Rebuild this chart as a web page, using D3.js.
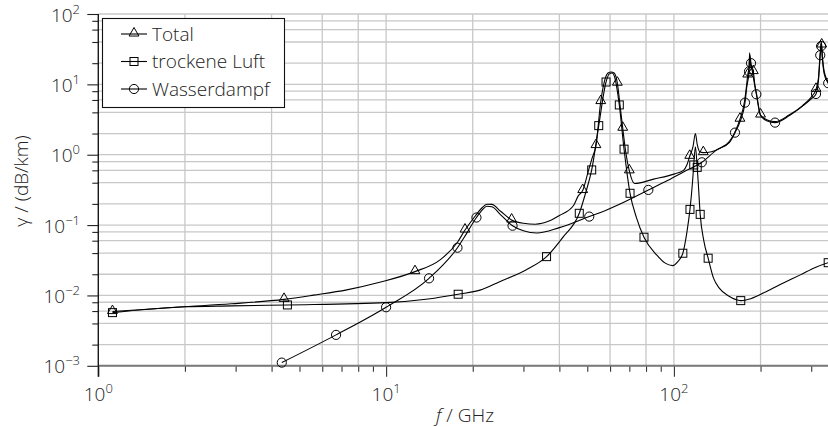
<!DOCTYPE html>
<html><head><meta charset="utf-8">
<script src="https://cdn.jsdelivr.net/npm/d3@7"></script>
<style>
body{margin:0;background:#fff}
svg{display:block}
text{font-family:"Open Sans","Liberation Sans",sans-serif;font-weight:300;fill:#222}
</style>
</head><body>
<svg id="c" width="828" height="427"></svg>
<script>
// ---- data (frequency in GHz, attenuation in dB/km) ----
const seriesNames = ["Total", "trockene Luft", "Wasserdampf"];

const totalLine = [[1.12,0.0059],[2,0.0069],[2.9,0.0076],[4.42,0.0088],[5.6,0.0101],[7.3,0.0120],[9.5,0.0154],[12.6,0.0218],[15.4,0.032],[17.7,0.057],[18.8,0.085],[20.5,0.138],[21.5,0.175],[22.4,0.198],[23.3,0.197],[25,0.157],[27.3,0.118],[30,0.106],[33,0.103],[37,0.115],[40,0.137],[44.8,0.19],[46.5,0.26],[48.2,0.31],[50.5,0.6],[52,0.9],[53.6,1.35],[55.7,5.7],[57.5,11.5],[59,14.5],[60.5,15],[62,14.5],[63.6,10.4],[65,5],[66.4,2.38],[68,1.1],[70,0.59],[73,0.39],[85,0.45],[100,0.53],[108,0.6],[111,0.72],[113.5,0.95],[116.5,1.3],[118.75,2.0],[120.5,1.4],[123,1.1],[126.5,1.07],[135,1.1],[145,1.25],[156,1.55],[163,2.1],[169.6,3.2],[176,5.8],[178.5,9],[180.5,13.6],[182.5,18],[183.3,28],[184.5,19],[186.5,16.5],[188.7,15.2],[191,10],[193.4,7.6],[200,3.67],[210,3.15],[224.6,2.95],[252,3.7],[280,5.0],[300,6.6],[311.7,8.5],[318,12.5],[322,27],[325.15,41],[328,25],[333,15],[343.6,10.8],[360,8.5]];

const dryLine = [[1.12,0.0057],[2,0.0069],[2.9,0.0071],[4.54,0.00733],[10,0.0079],[14,0.0089],[17.8,0.0104],[21.2,0.0119],[24.8,0.0157],[30.6,0.023],[36.1,0.0356],[41.3,0.0686],[46.9,0.147],[49.5,0.3],[51.8,0.608],[54.8,2.59],[58.1,10.8],[59.5,14],[61,14.5],[62.3,12.5],[64.6,5.1],[67.1,1.2],[70.4,0.283],[74,0.13],[78.7,0.0672],[87.1,0.0377],[93,0.029],[99,0.0265],[103,0.03],[107.4,0.0398],[111,0.08],[113.7,0.167],[116,0.4],[117.2,0.716],[118.75,1.3],[120.5,0.66],[121.5,0.4],[123.4,0.142],[127,0.06],[131.5,0.0338],[137.3,0.0176],[144,0.0126],[155,0.0098],[170.7,0.00844],[185,0.009],[209,0.0113],[240,0.015],[275,0.0196],[310,0.025],[343.6,0.0292],[360,0.031]];

const wetLine = [[4.34,0.00111],[6.7,0.00275],[10,0.0068],[14.1,0.0175],[17.7,0.0477],[19,0.075],[20.6,0.128],[21.6,0.165],[22.4,0.185],[23.3,0.182],[25,0.14],[27.5,0.098],[30,0.083],[33.4,0.077],[40,0.092],[50.8,0.132],[55.3,0.15],[65,0.2],[81.5,0.316],[95,0.43],[108,0.57],[125,0.78],[140.8,1.17],[156,1.5],[163,2.06],[170,3.0],[176.6,5.5],[179,9],[182.4,15.3],[183.3,26],[185.3,20],[188,14],[191,9.5],[193.4,7.24],[200,3.6],[210,3.05],[224.6,2.86],[252,3.6],[280,4.9],[300,6.2],[311.7,7.3],[318,11.5],[322.4,26],[324.8,35],[325.15,38],[328,23],[333,14],[343.6,10.4],[360,8]];

const totalMarks = [[1.12,0.0059],[4.42,0.0088],[12.6,0.0218],[18.8,0.085],[27.3,0.118],[48.2,0.31],[53.6,1.35],[55.7,5.7],[63.6,10.4],[66.4,2.38],[70,0.59],[113.5,0.95],[126.5,1.07],[169.6,3.2],[180.5,13.6],[188.7,15.2],[200,3.67],[311.7,8.5],[326.2,36.3]];
const dryMarks = [[1.12,0.0057],[4.54,0.00733],[17.8,0.0104],[36.1,0.0356],[46.9,0.147],[51.8,0.608],[54.8,2.59],[58.1,10.8],[64.6,5.1],[67.1,1.2],[70.4,0.283],[78.7,0.0672],[107.4,0.0398],[113.7,0.167],[117.2,0.716],[120.5,0.66],[123.4,0.142],[131.5,0.0338],[170.7,0.00844],[343.6,0.0292]];
const wetMarks = [[4.34,0.00111],[6.7,0.00275],[10,0.0068],[14.1,0.0175],[17.7,0.0477],[20.6,0.128],[27.5,0.098],[50.8,0.132],[81.5,0.316],[125,0.78],[163,2.06],[176.6,5.5],[182.4,15.3],[185.3,20],[193.4,7.24],[224.6,2.86],[311.7,7.3],[322.4,26],[324.8,35],[343.6,10.4]];

const xDecades = [1, 10, 100];
const xDecadeExp = ["0", "1", "2"];
const yDecades = [1e-3, 1e-2, 1e-1, 1, 10, 100];
const yDecadeExp = ["\u22123", "\u22122", "\u22121", "0", "1", "2"];
const xLabel = "f";
const xUnit = " / GHz";
const yLabel = "\u03b3 / (dB/km)";

// ---- chart ----
const svg = d3.select("#c");
const x = d3.scaleLog().domain([1, 350]).range([98.3, 830.5]);
const y = d3.scaleLog().domain([1e-3, 1e2]).range([365.8, 14]);
const [x0, x1] = x.range();
const [yb, yt] = y.range();

const lead = v => Math.round(v / Math.pow(10, Math.floor(Math.log10(v) + 1e-9)));
const gridSet = new Set([1, 2, 4, 6, 8]);
const xt = x.ticks();
const yt_ = y.ticks();

// grid
const grid = svg.append("g").attr("stroke", "#c8c8c8").attr("stroke-width", 1.3);
grid.selectAll("line.v").data(xt.filter(v => gridSet.has(lead(v)))).join("line")
  .attr("x1", d => x(d)).attr("x2", d => x(d)).attr("y1", yt).attr("y2", yb);
grid.selectAll("line.h").data(yt_.filter(v => gridSet.has(lead(v)))).join("line")
  .attr("x1", x0).attr("x2", 828).attr("y1", d => y(d)).attr("y2", d => y(d));

// axes
const isDec = v => lead(v) === 1;
const gx = svg.append("g").attr("transform", `translate(0,${yb})`);
gx.append("g").call(d3.axisBottom(x).tickValues(xt.filter(isDec)).tickSize(11).tickFormat(""));
gx.append("g").call(d3.axisBottom(x).tickValues(xt.filter(v => !isDec(v))).tickSize(6).tickFormat(""));
gx.selectAll(".domain").remove();
gx.selectAll(".tick line").attr("stroke", "#333").attr("stroke-width", 1.1);
svg.append("line").attr("x1", x0).attr("x2", 828).attr("y1", yb).attr("y2", yb)
  .attr("stroke", "#7a7a7a").attr("stroke-width", 2);

const gy = svg.append("g").attr("transform", `translate(${x0},0)`);
gy.append("g").call(d3.axisLeft(y).tickValues(yt_.filter(isDec)).tickSize(11).tickFormat(""));
gy.append("g").call(d3.axisLeft(y).tickValues(yt_.filter(v => [2,4,6,8].includes(lead(v)))).tickSize(6).tickFormat(""));
gy.selectAll(".domain").remove();
gy.selectAll(".tick line").attr("stroke", "#222").attr("stroke-width", 1.1);
svg.append("line").attr("x1", x0).attr("x2", x0).attr("y1", yt).attr("y2", yb + 11)
  .attr("stroke", "#111").attr("stroke-width", 1.3);

// tick labels
xDecades.forEach((d, i) => {
  const t = svg.append("text").attr("x", x(d)).attr("y", 400.5).attr("text-anchor", "middle").attr("font-size", 19);
  t.append("tspan").text("10");
  t.append("tspan").attr("dy", -8).attr("font-size", 13).text(xDecadeExp[i]);
});
yDecades.forEach((d, i) => {
  const t = svg.append("text").attr("x", 80).attr("y", y(d) + 7.5).attr("text-anchor", "end").attr("font-size", 19);
  t.append("tspan").text("10");
  t.append("tspan").attr("dy", -8).attr("font-size", 13).text(yDecadeExp[i]);
});

// axis titles
const xt2 = svg.append("text").attr("x", 465).attr("y", 421.5).attr("text-anchor", "middle").attr("font-size", 19);
xt2.append("tspan").attr("font-style", "italic").text(xLabel);
xt2.append("tspan").text(xUnit);
svg.append("text").attr("transform", "translate(28,181) rotate(-90)").attr("text-anchor", "middle")
  .attr("font-size", 19).text(yLabel);

// clip
svg.append("clipPath").attr("id", "plot").append("rect")
  .attr("x", x0).attr("y", 0).attr("width", 828 - x0).attr("height", yb);

const line = d3.line().x(d => x(d[0])).y(d => y(d[1])).curve(d3.curveMonotoneX);
const plot = svg.append("g").attr("clip-path", "url(#plot)");
[totalLine, dryLine, wetLine].forEach(data => {
  plot.append("path").datum(data).attr("d", line)
    .attr("fill", "none").attr("stroke", "#000").attr("stroke-width", 1.1);
});

const marks = svg.append("g").attr("fill", "none").attr("stroke", "#000").attr("stroke-width", 1);
const tri = d3.symbol().type(d3.symbolTriangle).size(42);
marks.selectAll("path.t").data(totalMarks).join("path")
  .attr("transform", d => `translate(${x(d[0])},${y(d[1]) - 0.8})`).attr("d", tri);
marks.selectAll("rect.s").data(dryMarks).join("rect")
  .attr("x", d => x(d[0]) - 4).attr("y", d => y(d[1]) - 4).attr("width", 8).attr("height", 8);
marks.selectAll("circle.c").data(wetMarks).join("circle")
  .attr("cx", d => x(d[0])).attr("cy", d => y(d[1])).attr("r", 4.6);

// legend
const lg = svg.append("g");
lg.append("rect").attr("x", 102.5).attr("y", 18.5).attr("width", 182).attr("height", 89)
  .attr("fill", "#fff").attr("stroke", "#111").attr("stroke-width", 1.1);
const rows = [34, 61.5, 89];
seriesNames.forEach((name, i) => {
  const cy = rows[i];
  lg.append("line").attr("x1", 121).attr("x2", 147).attr("y1", cy).attr("y2", cy).attr("stroke", "#000").attr("stroke-width", 1.1);
  if (i === 0) lg.append("path").attr("transform", `translate(134,${cy - 0.8})`).attr("d", tri).attr("fill", "none").attr("stroke", "#000");
  if (i === 1) lg.append("rect").attr("x", 130).attr("y", cy - 4).attr("width", 8).attr("height", 8).attr("fill", "none").attr("stroke", "#000");
  if (i === 2) lg.append("circle").attr("cx", 134).attr("cy", cy).attr("r", 4.6).attr("fill", "none").attr("stroke", "#000");
  lg.append("text").attr("x", 152).attr("y", cy + 6.8).attr("font-size", 19).text(name);
});
</script>
</body></html>
